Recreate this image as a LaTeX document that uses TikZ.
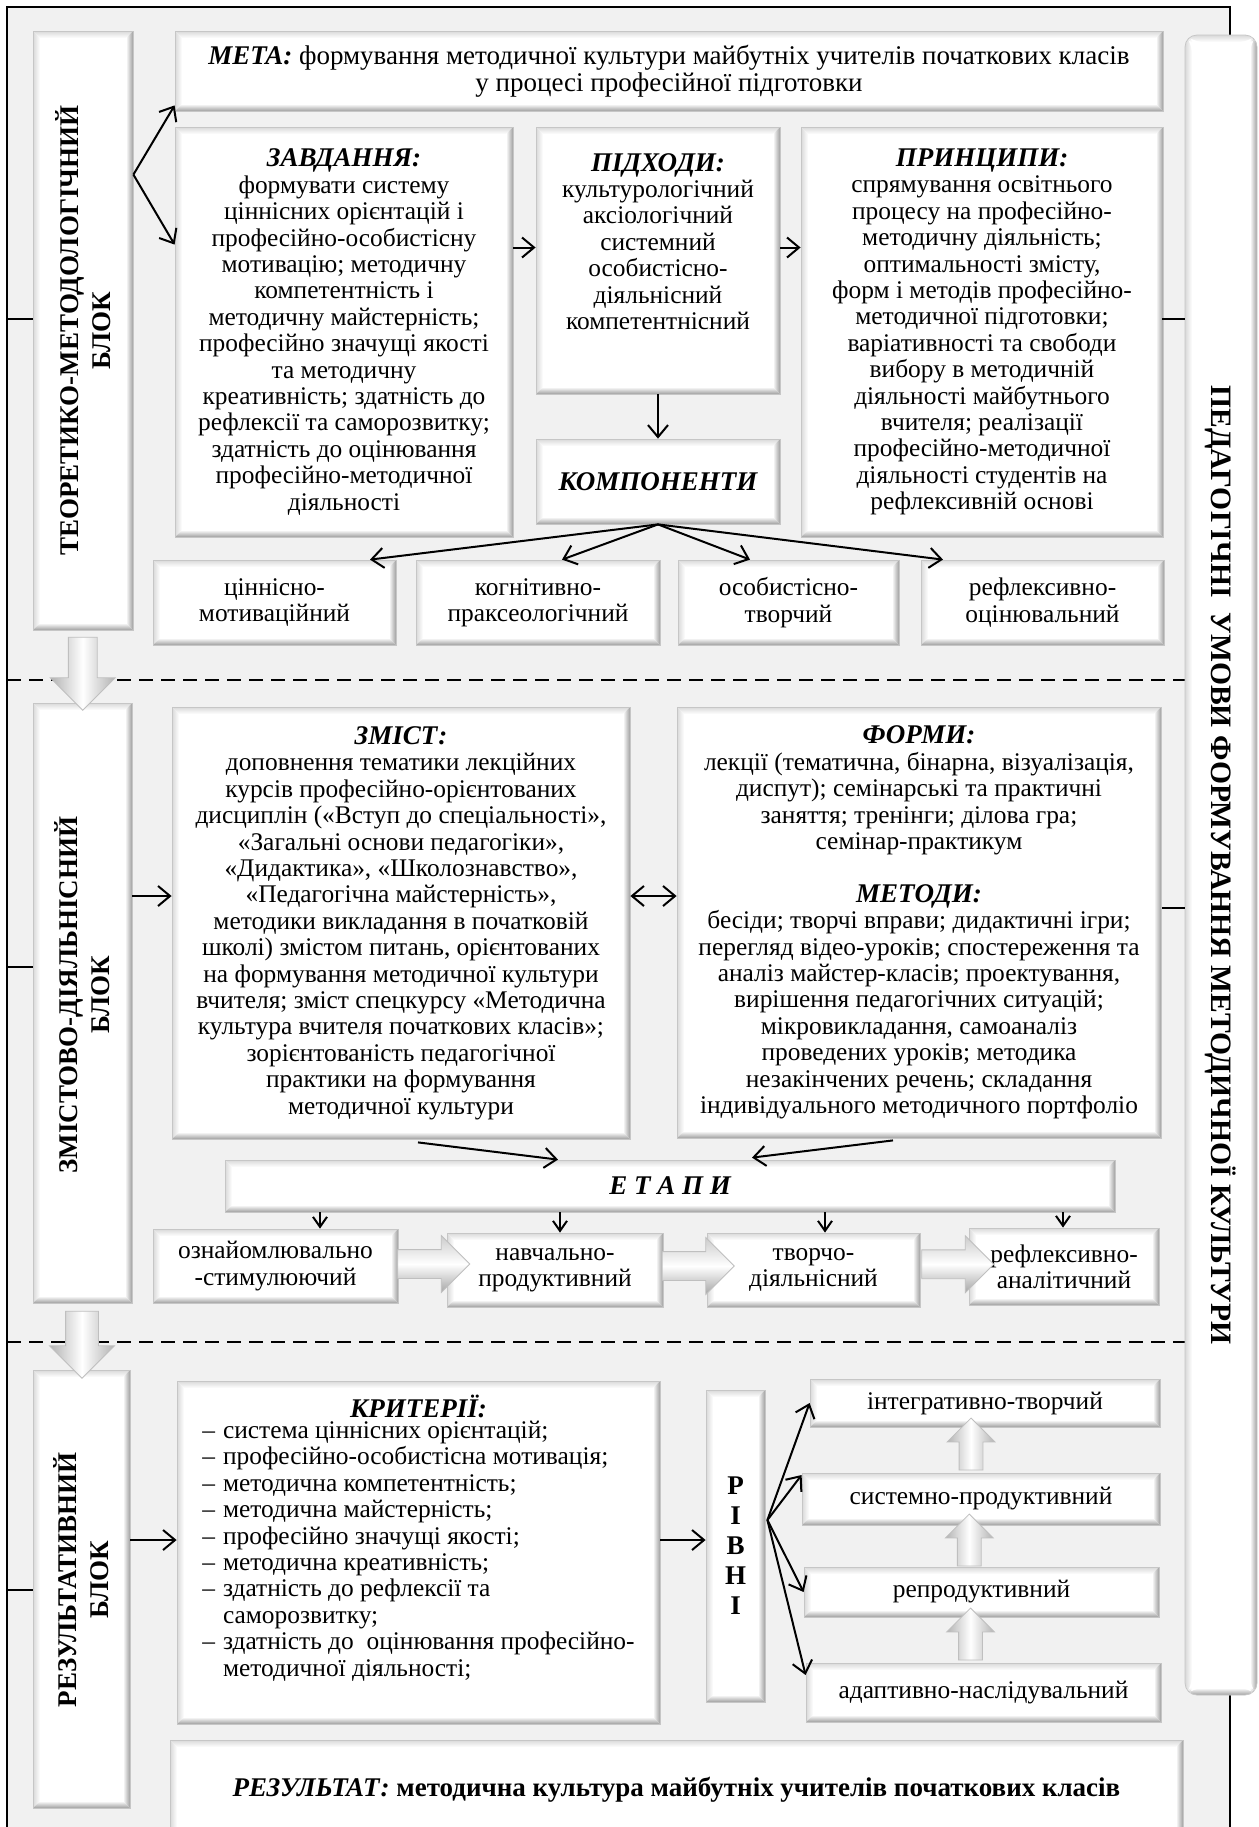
\documentclass[tikz,border=0pt]{standalone}
\usepackage{fontspec}
\setmainfont{Liberation Serif}
\usetikzlibrary{positioning,calc,arrows.meta,shapes.arrows}
\definecolor{bgg}{RGB}{241,241,241}
\newcommand{\hd}[1]{{\fontsize{13.5}{13.2}\selectfont\bfseries\itshape #1}}
\setlength{\lineskiplimit}{-6pt}

\begin{document}
\begin{tikzpicture}[x=0.5pt,y=-0.5pt,
  cell/.style={fill=white,draw=gray!45,line width=0.4pt,inner sep=2pt,align=center,
    font=\fontsize{12.7}{13.2}\selectfont,
    path picture={
      \path (path picture bounding box.north west) coordinate (q1)
            (path picture bounding box.north east) coordinate (q2)
            (path picture bounding box.south east) coordinate (q3)
            (path picture bounding box.south west) coordinate (q4);
      \shade[top color=gray!30,bottom color=white] (q1) -- (q2) -- ([shift={(-3.5pt,-3.5pt)}]q2) -- ([shift={(3.5pt,-3.5pt)}]q1) -- cycle;
      \shade[left color=gray!30,right color=white] (q1) -- ([shift={(3.5pt,-3.5pt)}]q1) -- ([shift={(3.5pt,3.5pt)}]q4) -- (q4) -- cycle;
      \shade[left color=white,right color=gray!75] ([shift={(-3.5pt,-3.5pt)}]q2) -- (q2) -- (q3) -- ([shift={(-3.5pt,3.5pt)}]q3) -- cycle;
      \shade[top color=white,bottom color=gray!75] (q4) -- ([shift={(3.5pt,3.5pt)}]q4) -- ([shift={(-3.5pt,3.5pt)}]q3) -- (q3) -- cycle;
    }},
  lbl/.style={font=\fontsize{13.5}{16}\selectfont\bfseries,align=center},
  arr/.style={-{Straight Barb[length=6pt,width=10pt]},line width=1pt},
  arrs/.style={-{Straight Barb[length=5pt,width=7pt]},line width=1pt},
  fatv/.style={single arrow,shape border rotate=270,draw=gray!50,line width=0.4pt,left color=gray!60,right color=gray!60,middle color=white},
  fatu/.style={fatv,shape border rotate=90},
  fatr/.style={single arrow,draw=gray!50,line width=0.4pt,top color=gray!40,bottom color=gray!70,middle color=white},
  stub/.style={line width=1.2pt},
  dashln/.style={line width=1.3pt,dash pattern=on 7pt off 4pt}]
\useasboundingbox (0,0) rectangle (1259,1827);
% marco general
\fill[bgg] (7,7) rectangle (1230,1840);
\draw[line width=1.2pt] (1230,35) -- (1230,7) -- (7,7) -- (7,1840);
\draw[line width=1.2pt] (1230,1695) -- (1230,1840);
\draw[dashln] (7,680) -- (1185,680);
\draw[dashln] (7,1342) -- (1185,1342);

% bloques laterales
\node (blk1) at (83,330.5) [cell,minimum width=50pt,minimum height=299.5pt] {};
\node (blk2) at (82.5,1003) [cell,minimum width=49.5pt,minimum height=300pt] {};
\node (blk3) at (81.5,1589) [cell,minimum width=48.5pt,minimum height=219pt] {};
\node (umovy) at (1221,865) [cell,rounded corners=6pt,minimum width=36pt,minimum height=830pt] {};
\node (blk1t) at (blk1) [lbl,rotate=90] {ТЕОРЕТИКО-МЕТОДОЛОГІЧНИЙ\\БЛОК};
\node (blk2t) at (82.5,995) [lbl,rotate=90] {ЗМІСТОВО-ДІЯЛЬНІСНИЙ\\БЛОК};
\node (blk3t) at (81.5,1580) [lbl,rotate=90] {РЕЗУЛЬТАТИВНИЙ\\БЛОК};
\node (umovyt) at (umovy) [lbl,rotate=-90,font=\fontsize{14.8}{16}\selectfont\bfseries] {ПЕДАГОГІЧНІ\ \ УМОВИ ФОРМУВАННЯ МЕТОДИЧНОЇ КУЛЬТУРИ};

% теоретико-методологічний блок
\node (meta) at (669,71) [cell,minimum width=494pt,minimum height=40pt,font=\fontsize{13.5}{13.5}\selectfont] {\hd{МЕТА:} формування методичної культури майбутніх учителів початкових класів\\у процесі професійної підготовки};
\node (zavd) at (344,332) [cell,minimum width=169pt,minimum height=205pt] {\hd{ЗАВДАННЯ:}\\формувати систему\\ціннісних орієнтацій і\\професійно-особистісну\\мотивацію; методичну\\компетентність і\\методичну майстерність;\\професійно значущі якості\\та методичну\\креативність; здатність до\\рефлексії та саморозвитку;\\здатність до оцінювання\\професійно-методичної\\діяльності};
\node (pidh) at (658,260.5) [cell,minimum width=122pt,minimum height=133.5pt] {\hd{ПІДХОДИ:}\\культурологічний\\аксіологічний\\системний\\особистісно-\\діяльнісний\\компетентнісний\\[6pt]};
\node (komp) at (658,481.5) [cell,minimum width=122pt,minimum height=42.5pt] {\hd{КОМПОНЕНТИ}};
\node (pryn) at (982,332) [cell,minimum width=181pt,minimum height=205pt] {\hd{ПРИНЦИПИ:}\\спрямування освітнього\\процесу на професійно-\\методичну діяльність;\\оптимальності змісту,\\форм і методів професійно-\\методичної підготовки;\\варіативності та свободи\\вибору в методичній\\діяльності майбутнього\\вчителя; реалізації\\професійно-методичної\\діяльності студентів на\\рефлексивній основі};
\node (cmp1) at (274.5,602.5) [cell,minimum width=121.5pt,minimum height=42.5pt] {ціннісно-\\мотиваційний};
\node (cmp2) at (538,602.5) [cell,minimum width=122pt,minimum height=42.5pt] {когнітивно-\\праксеологічний};
\node (cmp3) at (788.5,602.5) [cell,minimum width=110.5pt,minimum height=42.5pt] {особистісно-\\творчий};
\node (cmp4) at (1042.5,602.5) [cell,minimum width=121.5pt,minimum height=42.5pt] {рефлексивно-\\оцінювальний};

% змістово-діяльнісний блок
\node (zmist) at (401,923) [cell,minimum width=229pt,minimum height=216pt] {\hd{ЗМІСТ:}\\доповнення тематики лекційних\\курсів професійно-орієнтованих\\дисциплін («Вступ до спеціальності»,\\«Загальні основи педагогіки»,\\«Дидактика», «Школознавство»,\\«Педагогічна майстерність»,\\методики викладання в початковій\\школі) змістом питань, орієнтованих\\на формування методичної культури\\вчителя; зміст спецкурсу «Методична\\культура вчителя початкових класів»;\\зорієнтованість педагогічної\\практики на формування\\методичної культури};
\node (formy) at (919,922.5) [cell,minimum width=242pt,minimum height=215.5pt] {\hd{ФОРМИ:}\\лекції (тематична, бінарна, візуалізація,\\диспут); семінарські та практичні\\заняття; тренінги; ділова гра;\\семінар-практикум\\[13.2pt]\hd{МЕТОДИ:}\\бесіди; творчі вправи; дидактичні ігри;\\перегляд відео-уроків; спостереження та\\аналіз майстер-класів; проектування,\\вирішення педагогічних ситуацій;\\мікровикладання, самоаналіз\\проведених уроків; методика\\незакінчених речень; складання\\індивідуального методичного портфоліо};
\node (etapy) at (670,1186) [cell,minimum width=445pt,minimum height=26pt] {\hd{Е Т А П И}};
\node (st1) at (275.5,1266) [cell,minimum width=122.5pt,minimum height=37pt] {ознайомлювально\\-стимулюючий};
\node (st2) at (555,1270) [cell,minimum width=108pt,minimum height=37pt] {навчально-\\продуктивний};
\node (st3) at (813.5,1270) [cell,minimum width=106.5pt,minimum height=37pt] {творчо-\\діяльнісний};
\node (st4) at (1064,1266.5) [cell,minimum width=95pt,minimum height=38.5pt] {рефлексивно-\\аналітичний};

% результативний блок
\node (kryt) at (418.5,1552.5) [cell,minimum width=241.5pt,minimum height=171.5pt] {\hd{КРИТЕРІЇ:}\\
  \begin{tabular}{@{}l@{\hspace{4pt}}l@{}}
  – & система ціннісних орієнтацій;\\
  – & професійно-особистісна мотивація;\\
  – & методична компетентність;\\
  – & методична майстерність;\\
  – & професійно значущі якості;\\
  – & методична креативність;\\
  – & здатність до рефлексії та\\
    & саморозвитку;\\
  – & здатність до\ \ оцінювання професійно-\\
    & методичної діяльності;
  \end{tabular}\\[12pt]};
\node (rivni) at (735.5,1546) [cell,minimum width=29.5pt,minimum height=156pt,font=\fontsize{13.5}{15}\selectfont\bfseries] {Р\\І\\В\\Н\\І};
\node (lv1) at (985,1403) [cell,minimum width=175pt,minimum height=24pt] {інтегративно-творчий};
\node (lv2) at (981,1499) [cell,minimum width=179pt,minimum height=26pt] {системно-продуктивний};
\node (lv3) at (981.5,1592) [cell,minimum width=177.5pt,minimum height=25pt] {репродуктивний};
\node (lv4) at (983.5,1692.5) [cell,minimum width=177.5pt,minimum height=29.5pt] {адаптивно-наслідувальний};
\node (rez) at (676.5,1790) [cell,minimum width=506.5pt,minimum height=50pt,font=\fontsize{13.5}{13.5}\selectfont] {\textbf{\textit{РЕЗУЛЬТАТ:} методична культура майбутніх учителів початкових класів}};

% об'ємні стрілки
\node (fd1) at ($(blk1.south)!0.5!(blk2.north)$) [fatv,minimum height=36.5pt,minimum width=32pt,inner sep=7pt,single arrow head extend=9pt] {};
\node (fd2) at ($(blk2.south)!0.5!(blk3.north)$) [fatv,minimum height=33.5pt,minimum width=32pt,inner sep=8pt,single arrow head extend=8pt] {};
\foreach \a/\b/\dx [count=\i] in {st1/st2/2, st2/st3/3, st3/st4/3}
  \node (fr\i) at ($(\a.east)!0.5!(\b.west)+(\dx pt,2pt)$) [fatr,minimum height=36pt,minimum width=28pt,inner sep=7pt,single arrow head extend=7pt] {};
\foreach \a/\b [count=\i] in {lv2/lv1, lv3/lv2, lv4/lv3}
  \node (fu\i) at ($(\a.north)!0.5!(\b.south)+(-6pt,0)$) [fatu,minimum height=26pt,minimum width=23.5pt,inner sep=5.75pt,single arrow head extend=6pt] {};

% з'єднання з рамкою
\coordinate (t1) at (7,319);
\coordinate (t2) at (7,967);
\coordinate (t3) at (7,1590);
\coordinate (t4) at (1162,319);
\coordinate (t5) at (1162,908);
\draw[stub] (t1) -- (t1 -| blk1.west);
\draw[stub] (t2) -- (t2 -| blk2.west);
\draw[stub] (t3) -- (t3 -| blk3.west);
\draw[stub] (t4) -- (t4 -| umovy.west);
\draw[stub] (t5) -- (t5 -| umovy.west);

% стрілки
\coordinate (br1) at ($(blk1.north east)+(0,-72pt)$);
\draw[arr] (br1) -- ($(meta.south west)+(0,3pt)$);
\draw[arr] (br1) -- ($(zavd.north west)+(0,-59pt)$);
\draw[arr] ($(zavd.east |- pidh.west)+(0,6.5pt)$) -- ($(pidh.west)+(0,6.5pt)$);
\draw[arr] ($(pidh.east)+(0,6.5pt)$) -- ($(pidh.east -| pryn.west)+(0,6.5pt)$);
\draw[arr] (pidh) -- (komp);
\foreach \c/\dx in {cmp1/47.75, cmp2/12, cmp3/-19.25, cmp4/-49.75}
  \draw[arr] (komp.south) -- ($(\c.north)+(\dx pt,0)$);

\draw[arr] ($(blk2.east |- zmist.west)+(0,13.5pt)$) -- ($(zmist.west)+(0,13.5pt)$);
\draw[{Straight Barb[length=6pt,width=10pt]}-{Straight Barb[length=6pt,width=10pt]},line width=1pt] ($(zmist.east)+(0,13.5pt)$) -- ($(zmist.east -| formy.west)+(0,13.5pt)$);
\draw[arr] ($(zmist.south)+(8.5pt,-1.5pt)$) -- ($(etapy.north)+(-56pt,0)$);
\draw[arr] ($(formy.south)+(-13pt,-1pt)$) -- ($(etapy.north)+(41pt,1pt)$);
\foreach \s/\dx in {st1/22.25, st2/2.5, st3/5.75, st4/-0.5}
  \draw[arrs] ($(\s.north |- etapy.south)+(\dx pt,0)$) -- ($(\s.north)+(\dx pt,0)$);

\draw[arr] ($(blk3.east |- kryt.west)+(0,6.25pt)$) -- ($(kryt.west)+(0,6.25pt)$);
\draw[arr] ($(kryt.east)+(0,6.25pt)$) -- ($(kryt.east -| rivni.west)+(0,6.25pt)$);
\coordinate (br2) at ($(rivni.east)+(1pt,13pt)$);
\foreach \l/\dy in {lv1/0, lv2/12, lv3/0, lv4/8.75}
  \draw[arr] (br2) -- ($(\l.west)+(0,\dy pt)$);
\end{tikzpicture}
\end{document}
